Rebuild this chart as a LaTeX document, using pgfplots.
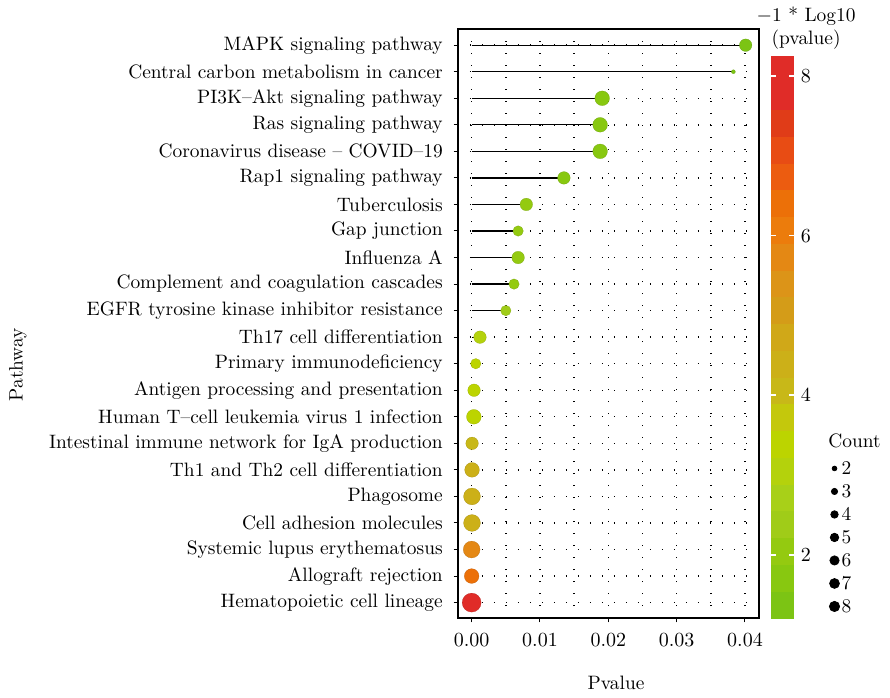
\documentclass[border=0pt]{standalone}
\usepackage{pgfplots}
\pgfplotsset{compat=1.18}
\usepackage{pgfplotstable}

% y = row (0 = bottom), p = pvalue, nlp = -log10(p), count = genes
\pgfplotstableread{
y  p          nlp    count
21 0.0401     1.397  5
20 0.0383     1.417  1
19 0.0191     1.719  6
18 0.0188     1.726  6
17 0.0188     1.726  6
16 0.0135     1.870  5
15 0.0080     2.097  5
14 0.0068     2.167  4
13 0.0068     2.167  5
12 0.0062     2.208  4
11 0.0050     2.301  4
10 0.00122    2.914  5
9  0.00060    3.222  4
8  0.00035    3.456  5
7  0.00032    3.495  6
6  0.000060   4.222  5
5  0.000055   4.260  6
4  0.000050   4.301  7
3  0.000050   4.301  7
2  0.0000013  5.886  7
1  0.00000032 6.495  6
0  0.000000008 8.097 8
}\pathdata

\pgfplotsset{
  dotleg/.style={only marks, mark=*, black, mark size=#1,
    legend image code/.code={\draw[##1] plot coordinates {(0pt,0pt)};}},
}

\begin{document}
\fontsize{9.7}{11.6}\selectfont
\begin{tikzpicture}
\begin{axis}[
  scale only axis, width=150.5pt, height=294.5pt,
  clip mode=individual,
  xmin=-0.002, xmax=0.04205, ymin=-0.58, ymax=21.61,
  xtick={0,0.01,0.02,0.03,0.04}, minor x tick num=1,
  ytick={0,...,21},
  yticklabels={Hematopoietic cell lineage, Allograft rejection, Systemic lupus erythematosus,
    Cell adhesion molecules, Phagosome, Th1 and Th2 cell differentiation,
    Intestinal immune network for IgA production, Human T--cell leukemia virus 1 infection,
    Antigen processing and presentation, Primary immunodeficiency, Th17 cell differentiation,
    EGFR tyrosine kinase inhibitor resistance, Complement and coagulation cascades,
    Influenza A, Gap junction, Tuberculosis, Rap1 signaling pathway,
    Coronavirus disease -- COVID--19, Ras signaling pathway, PI3K--Akt signaling pathway,
    Central carbon metabolism in cancer, MAPK signaling pathway},
  tick pos=left, tick align=outside, major tick length=2.2pt, minor tick length=0pt,
  tick style={black, line width=0.5pt},
  xmajorgrids, xminorgrids, ymajorgrids,
  major grid style={black, line width=0.7pt, dash pattern=on 0.6pt off 5.4pt},
  minor grid style={black, line width=0.7pt, dash pattern=on 0.6pt off 5.4pt},
  axis line style={black, line width=0.65pt},
  scaled x ticks=false,
  xticklabel style={/pgf/number format/.cd, fixed, fixed zerofill, precision=2, /tikz/.cd, yshift=-2pt},
  yticklabel style={xshift=-2pt},
  xlabel={Pvalue}, ylabel={Pathway},
  x label style={at={(axis description cs:0.525,0)}, anchor=center, yshift=-32.5pt},
  y label style={at={(axis description cs:-1.4618,0.43)}, anchor=center},
  colormap={pval}{rgb255=(124,196,20) rgb255=(136,200,16) rgb255=(148,202,16) rgb255=(160,204,24)
    rgb255=(168,208,24) rgb255=(180,210,12) rgb255=(188,212,0) rgb255=(196,200,12)
    rgb255=(200,184,24) rgb255=(204,176,24) rgb255=(208,168,24) rgb255=(212,156,24)
    rgb255=(220,148,24) rgb255=(228,136,20) rgb255=(236,124,12) rgb255=(236,112,8)
    rgb255=(236,92,16) rgb255=(232,76,20) rgb255=(224,60,24) rgb255=(224,44,40) rgb255=(224,44,40)},
  colormap access=piecewise constant,
  point meta min=1.21, point meta max=8.25,
  colorbar,
  colorbar style={
    at={(parent axis.south east)}, anchor=south west, xshift=-2.5pt,
    scale only axis, width=11.5pt, height=281pt,
    ytick={2,4,6,8}, axis line style={draw=none},
    yticklabel pos=right, ytick pos=both, tick align=inside,
    major tick length=2.5pt, major tick style={white, line width=0.8pt},
    title={$-$1 * Log10\\(pvalue)},
    title style={align=center, anchor=south, at={(0.5,1)}, xshift=11.75pt, yshift=-3pt, inner sep=0pt},
  },
  legend style={at={(rel axis cs:1.2326,0.269)}, anchor=north west, draw=none, fill=none,
    inner sep=0pt, row sep=3pt, column sep=0pt,
    nodes={inner sep=1pt, text height=6.5pt, text depth=0pt}},
  legend cell align=left,
]
\addlegendimage{dotleg=1.17pt}\addlegendentry{2}
\addlegendimage{dotleg=1.55pt}\addlegendentry{3}
\addlegendimage{dotleg=1.85pt}\addlegendentry{4}
\addlegendimage{dotleg=2.1pt}\addlegendentry{5}
\addlegendimage{dotleg=2.3pt}\addlegendentry{6}
\addlegendimage{dotleg=2.45pt}\addlegendentry{7}
\addlegendimage{dotleg=2.55pt}\addlegendentry{8}

\addplot[xcomb, black, line width=0.6pt, no markers, forget plot]
  table[x=p, y=y] {\pathdata};
\addplot[scatter, only marks, mark=*, forget plot,
  point meta=\thisrow{nlp},
  visualization depends on={\thisrow{count} \as \cnt},
  scatter/@pre marker code/.append style={/tikz/mark size=0.465+0.535*\cnt},
  mark options={line width=0.1pt}]
  table[x=p, y=y] {\pathdata};

\node[anchor=west, inner sep=0pt] at (rel axis cs:1.229,0.3005) {Count};
\end{axis}
\pgfresetboundingbox
\path[use as bounding box] (-229pt,-39.5pt) rectangle (216pt,309pt);
\end{tikzpicture}
\end{document}
